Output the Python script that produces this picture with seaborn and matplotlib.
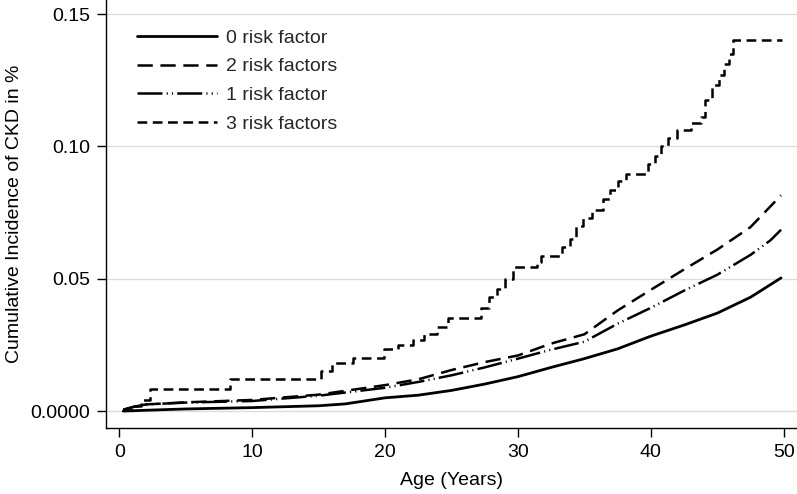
import matplotlib
matplotlib.use("Agg")
import matplotlib.pyplot as plt
import numpy as np
import pandas as pd
import seaborn as sns

# ── data ─────────────────────────────────────────────────────
age_0 = [0.3, 2, 5, 10, 15, 17, 20, 22.5, 25, 27.5, 30, 32.5, 35, 37.5,
         40, 42.5, 45, 47.5, 49.8]
cum_0 = [0.0, 0.0003, 0.0008, 0.0013, 0.002, 0.0027, 0.005, 0.006, 0.0078,
         0.0102, 0.013, 0.0165, 0.0198, 0.0235, 0.0283, 0.0325, 0.037,
         0.043, 0.0503]

age_2 = [0.3, 1, 2, 5, 10, 15, 20, 22.5, 25, 27.5, 30, 32.5, 35, 37.5, 40,
         42.5, 45, 47.5, 49.8]
cum_2 = [0.0005, 0.0015, 0.0025, 0.0033, 0.0042, 0.0062, 0.0098, 0.012,
         0.0155, 0.0185, 0.021, 0.0255, 0.029, 0.038, 0.0458, 0.0535, 0.061,
         0.0695, 0.0815]

age_1 = [0.3, 1, 2, 5, 10, 15, 20, 22.5, 25, 27.5, 30, 32.5, 35, 37.5, 40,
         42.5, 45, 47.5, 49, 49.8]
cum_1 = [0.0005, 0.0015, 0.0025, 0.0032, 0.0038, 0.0058, 0.0088, 0.011,
         0.0135, 0.0165, 0.0198, 0.0232, 0.0262, 0.033, 0.039, 0.0455,
         0.0515, 0.059, 0.0645, 0.0685]

age_3 = [0.3, 1.0, 1.6, 2.3, 8.3, 15.2, 16.0, 17.6, 19.9, 21.0, 22.1,
         22.9, 23.9, 24.7, 27.2, 27.8, 28.4, 29.0, 29.6, 31.4, 31.7, 33.3,
         33.9, 34.4, 34.9, 35.6, 36.4, 36.9, 37.5, 38.1, 39.8, 40.3, 40.8,
         41.3, 42.0, 43.0, 43.8, 44.1, 44.6, 45.1, 45.5, 45.9, 46.2, 49.9]
cum_3 = [0.0005, 0.002, 0.004, 0.0085, 0.012, 0.015, 0.018, 0.020,
         0.0235, 0.025, 0.0268, 0.029, 0.0318, 0.035, 0.039, 0.043, 0.046,
         0.050, 0.0545, 0.0565, 0.0585, 0.062, 0.065, 0.070, 0.073, 0.076,
         0.080, 0.0835, 0.087, 0.0895, 0.0935, 0.0965, 0.100, 0.103, 0.106,
         0.109, 0.111, 0.1175, 0.123, 0.127, 0.131, 0.135, 0.140, 0.140]

y_ticks = [0.0, 0.05, 0.10, 0.15]
y_tick_labels = ["0.0000", "0.05", "0.10", "0.15"]
x_ticks = [0, 10, 20, 30, 40, 50]

# ── style ────────────────────────────────────────────────────
sns.set_style("white")
plt.rcParams["font.family"] = ["Liberation Sans", "DejaVu Sans"]
plt.rcParams["lines.scale_dashes"] = False
FS = 14

fig = plt.figure(figsize=(7.97, 4.94), dpi=100)
ax = fig.add_axes([106 / 797, 66 / 494, 691 / 797, 428 / 494])

series = [
    ("0 risk factor", age_0, cum_0, "-", "default"),
    ("2 risk factors", age_2, cum_2, (0, (11, 5.5)), "default"),
    ("1 risk factor", age_1, cum_1, (0, (18, 3, 0.8, 3, 0.8, 3)), "default"),
    ("3 risk factors", age_3, cum_3, (0, (7, 4)), "steps-post"),
]

for label, x, y, ls, ds in series:
    df = pd.DataFrame({"age": x, "cum": y})
    sns.lineplot(data=df, x="age", y="cum", ax=ax, color="black",
                 linewidth=2.0 if ls == "-" else 1.8, linestyle=ls,
                 drawstyle=ds, estimator=None, sort=False, label=label)

ax.set_xlim(-1, 51)
ax.set_ylim(-0.0064, 0.1553)
ax.set_xticks(x_ticks)
ax.set_yticks(y_ticks)
ax.set_yticklabels(y_tick_labels)
ax.yaxis.grid(True, color="#dcdcdc", linewidth=1.0)
ax.set_axisbelow(True)

for side in ["top", "right"]:
    ax.spines[side].set_visible(False)
for side in ["left", "bottom"]:
    ax.spines[side].set_color("black")
    ax.spines[side].set_linewidth(1.0)

ax.tick_params(axis="both", which="major", direction="out", length=6.5,
               width=1.0, color="black", labelsize=FS, labelcolor="black",
               left=True, bottom=True)
ax.tick_params(axis="y", pad=5)
ax.tick_params(axis="x", pad=5)

ax.set_xlabel("Age (Years)", fontsize=FS, color="black", labelpad=8)
ax.set_ylabel("Cumulative Incidence of CKD in %", fontsize=FS,
              color="black", labelpad=5)

ax.legend(loc="upper left", bbox_to_anchor=(0.045, 0.932), frameon=False,
          fontsize=FS, handlelength=4.1, handletextpad=0.45,
          labelspacing=0.57, borderpad=0, borderaxespad=0)

plt.savefig("out.png", dpi=100)
